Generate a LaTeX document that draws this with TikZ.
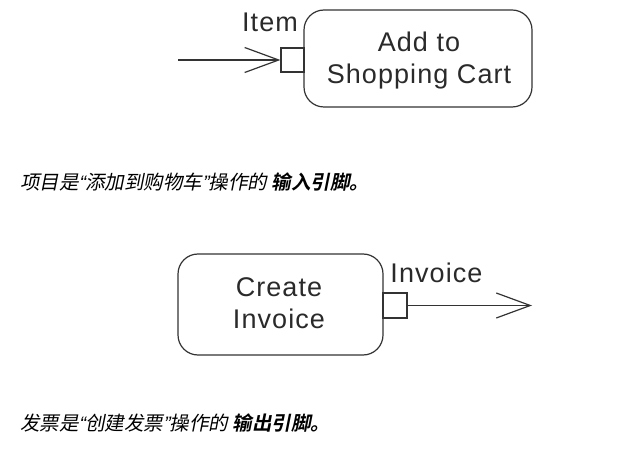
\documentclass[tikz,border=0pt]{standalone}
\usepackage{fontspec}
\setmainfont[LetterSpace=4]{Liberation Sans}
\newfontfamily\cjk[FakeSlant=0.2,BoldFont={Noto Sans CJK SC Bold}]{Noto Sans CJK SC}
\newfontfamily\qf[FakeSlant=0.2]{Liberation Sans}
\newcommand{\myopenq}{{\qf “}}
\newcommand{\mycloseq}{{\qf ”}}
\usetikzlibrary{arrows.meta}
\definecolor{ln}{HTML}{333333}
\definecolor{tx}{HTML}{2a2a2a}
\begin{document}
\begin{tikzpicture}[x=1pt,y=-1pt,
  action/.style={draw=ln,line width=1.2pt,rounded corners=20pt,inner sep=0pt},
  pin/.style={draw=ln,line width=1.2pt,inner sep=0pt},
  lbl/.style={text=tx,font=\fontsize{27}{32}\selectfont,align=center,inner sep=0pt},
  flow/.style={draw=ln,line width=1.2pt,-{Straight Barb[length=34pt,width=25pt,line width=1.2pt]}},
  captxt/.style={anchor=base west,font=\cjk\fontsize{19.5}{24}\selectfont,text=black,inner sep=0pt}]
\useasboundingbox (0,0) rectangle (634,454);
% top action
\draw[action] (304,10) rectangle (532,107);
\node[lbl] (add) at (419,60.5) {Add to\\Shopping Cart};
\node[pin,minimum width=23pt,minimum height=24pt] (inpin) at (292.5,60) {};
\coordinate (instart) at (178,60);
\draw[flow] (instart) -- (inpin.west);
\node[lbl,anchor=base] (item) at (270,32) {Item};
% bottom action
\draw[action] (178,254) rectangle (383,355);
\node[lbl] (create) at (279,303) {Create\\Invoice};
\node[pin,minimum width=24pt,minimum height=25pt] (outpin) at (395,305.5) {};
\coordinate (outend) at (532,305.5);
\draw[flow] (outpin.east) -- (outend);
\node[lbl,anchor=base] (inv) at (436.5,282) {Invoice};
% captions
\node[captxt] (c1) at (20,190) {项目是\myopenq 添加到购物车\mycloseq 操作的 \textbf{输入引脚。}};
\node[captxt] (c2) at (20,430) {发票是\myopenq 创建发票\mycloseq 操作的 \textbf{输出引脚。}};
\end{tikzpicture}
\end{document}
